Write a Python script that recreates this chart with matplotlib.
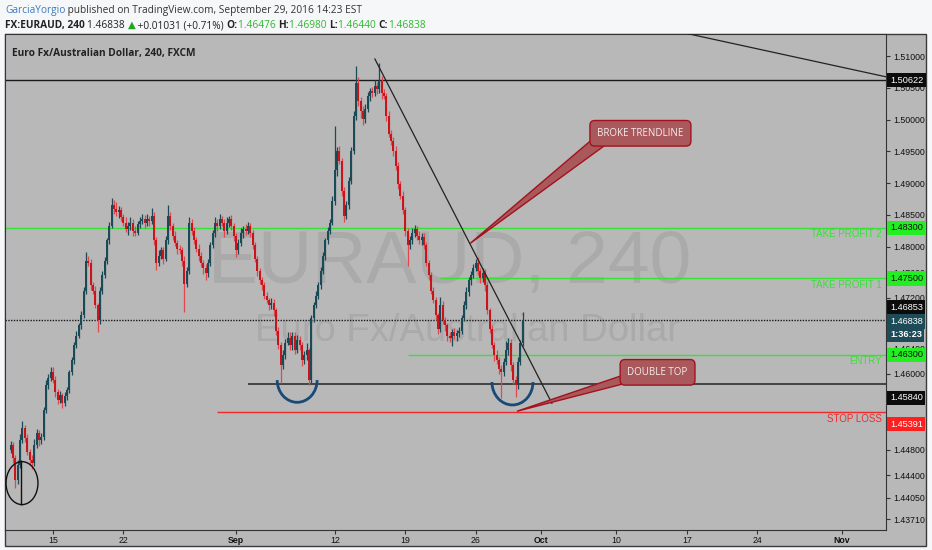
import numpy as np
import matplotlib.pyplot as plt
from matplotlib.patches import Ellipse, Arc, Polygon, Rectangle

# EURAUD 240 (4h) candles, Aug 10 - Sep 29 2016, 6 bars per trading day
first_open = 1.4480
closes = [
    1.4488, 1.4467, 1.4433, 1.4456, 1.4495, 1.4514,
    1.4499, 1.4477, 1.4464, 1.4459, 1.4488, 1.4506,
    1.4495, 1.4500, 1.4543, 1.4582, 1.4593, 1.4602,
    # Aug 15
    1.4590, 1.4571, 1.4558, 1.4566, 1.4554, 1.4565,
    1.4574, 1.4602, 1.4621, 1.4645, 1.4660, 1.4676,
    1.4692, 1.4731, 1.4778, 1.4775, 1.4739, 1.4731,
    1.4708, 1.4684, 1.4731, 1.4755, 1.4778, 1.4810,
    1.4833, 1.4865, 1.4860, 1.4854, 1.4857, 1.4847,
    # Aug 22
    1.4838, 1.4828, 1.4833, 1.4838, 1.4825, 1.4822,
    1.4835, 1.4841, 1.4844, 1.4838, 1.4844, 1.4841,
    1.4849, 1.4810, 1.4775, 1.4786, 1.4794, 1.4781,
    1.4810, 1.4849, 1.4833, 1.4817, 1.4806, 1.4797,
    1.4794, 1.4778, 1.4742, 1.4762, 1.4838, 1.4825,
    # Aug 29
    1.4810, 1.4797, 1.4786, 1.4775, 1.4766, 1.4759,
    1.4775, 1.4802, 1.4822, 1.4838, 1.4833, 1.4844,
    1.4838, 1.4825, 1.4838, 1.4844, 1.4833, 1.4817,
    1.4794, 1.4806, 1.4822, 1.4828, 1.4825, 1.4833,
    1.4822, 1.4802, 1.4781, 1.4762, 1.4747, 1.4739,
    # Sep 5
    1.4723, 1.4716, 1.4708, 1.4712, 1.4700, 1.4668,
    1.4645, 1.4613, 1.4629, 1.4649, 1.4656, 1.4645,
    1.4660, 1.4637, 1.4653, 1.4645, 1.4621, 1.4629,
    1.4637, 1.4590, 1.4687, 1.4708, 1.4723, 1.4739,
    1.4762, 1.4786, 1.4810, 1.4825, 1.4838, 1.4872,
    # Sep 12
    1.4920, 1.4951, 1.4935, 1.4888, 1.4849, 1.4865,
    1.4904, 1.4951, 1.5006, 1.5058, 1.5030, 1.5014,
    1.5001, 1.5017, 1.5037, 1.5045, 1.5042, 1.5053,
    1.5048, 1.5061, 1.5042, 1.5037, 1.5006, 1.4978,
    1.4967, 1.4951, 1.4927, 1.4899, 1.4880, 1.4857,
    # Sep 19
    1.4825, 1.4802, 1.4810, 1.4822, 1.4828, 1.4817,
    1.4810, 1.4816, 1.4802, 1.4775, 1.4755, 1.4731,
    1.4716, 1.4692, 1.4671, 1.4708, 1.4684, 1.4676,
    1.4660, 1.4656, 1.4665, 1.4659, 1.4664, 1.4668,
    1.4687, 1.4708, 1.4728, 1.4747, 1.4755, 1.4766,
    # Sep 26
    1.4775, 1.4762, 1.4750, 1.4759, 1.4739, 1.4700,
    1.4671, 1.4645, 1.4629, 1.4621, 1.4608, 1.4602,
    1.4618, 1.4637, 1.4648, 1.4613, 1.4590, 1.4582,
    1.4618, 1.46476, 1.46838,
]
# wick lengths in pips beyond the body
wick_up = [
    6, 4, 5, 8, 10, 12, 5, 6, 4, 8, 9, 7, 5, 6, 5, 8, 6, 9,
    8, 6, 5, 7, 4, 6, 5, 4, 6, 5, 7, 4, 6, 5, 14, 8, 6, 5, 7, 4, 5, 6, 5, 4, 6, 12, 8, 10, 7, 6,
    5, 8, 6, 9, 5, 7, 6, 5, 8, 6, 7, 5, 12, 5, 6, 8, 5, 6, 7, 16, 6, 5, 7, 5, 6, 5, 7, 6, 8, 5,
    6, 5, 7, 5, 4, 6, 5, 6, 5, 8, 6, 7, 5, 6, 8, 5, 6, 5, 4, 6, 7, 5, 8, 6, 5, 4, 6, 5, 4, 6,
    5, 6, 4, 7, 5, 4, 6, 5, 8, 6, 9, 10, 6, 5, 8, 7, 5, 6, 12, 4, 6, 5, 7, 5, 6, 5, 4, 6, 5, 8,
    70, 6, 8, 5, 6, 7, 5, 6, 8, 27, 9, 6, 7, 8, 6, 5, 7, 9, 6, 28, 8, 6, 5, 7, 6, 5, 8, 6, 5, 7,
    6, 5, 7, 8, 6, 5, 7, 6, 5, 6, 4, 5, 6, 5, 4, 12, 6, 5, 4, 6, 5, 7, 5, 6, 5, 6, 8, 5, 7, 6,
    6, 8, 5, 7, 6, 5, 4, 6, 5, 8, 6, 5, 7, 15, 9, 6, 5, 6, 8, 6, 14,
]
wick_dn = [
    5, 8, 13, 6, 5, 4, 6, 5, 7, 9, 4, 5, 8, 6, 4, 5, 6, 4,
    5, 7, 6, 4, 8, 5, 6, 5, 4, 6, 5, 4, 5, 4, 6, 5, 7, 6, 5, 18, 6, 5, 4, 6, 5, 4, 8, 6, 9, 7,
    6, 5, 9, 6, 8, 5, 4, 6, 5, 9, 6, 8, 5, 7, 12, 6, 5, 8, 4, 5, 7, 6, 5, 8, 6, 9, 45, 6, 5, 7,
    5, 6, 8, 7, 9, 12, 6, 5, 4, 6, 8, 5, 6, 9, 5, 7, 6, 8, 10, 6, 5, 8, 6, 5, 7, 6, 5, 8, 6, 7,
    6, 5, 8, 6, 9, 7, 6, 28, 5, 6, 4, 7, 8, 6, 5, 7, 9, 6, 8, 8, 5, 6, 4, 5, 6, 5, 7, 6, 5, 4,
    6, 8, 5, 9, 10, 6, 5, 6, 5, 7, 8, 12, 9, 6, 5, 8, 6, 5, 7, 6, 9, 5, 8, 6, 7, 9, 6, 8, 5, 6,
    8, 32, 6, 5, 7, 6, 5, 7, 6, 5, 8, 6, 5, 7, 9, 6, 5, 8, 9, 6, 12, 5, 7, 6, 5, 4, 6, 5, 7, 5,
    5, 6, 7, 5, 8, 6, 7, 5, 9, 6, 8, 40, 6, 5, 7, 8, 6, 19, 6, 5, 4,
]
first_bar = -18  # bar 0 = Aug 15 00:00

tick_bars = [0, 30, 78, 120, 150, 180, 208, 240, 270, 300, 336]
tick_names = ["15", "22", "Sep", "12", "19", "26", "Oct", "10", "17", "24", "Nov"]
price_ticks = [1.51, 1.505, 1.50, 1.495, 1.49, 1.485, 1.48, 1.476, 1.472,
               1.464, 1.46, 1.448, 1.444, 1.4405, 1.4371]

# drawn levels: name, price, start bar
resistance = 1.50622
support = 1.45840
prev_close = 1.46853
last_close = 1.46838
level_names = ["TAKE PROFIT 2", "TAKE PROFIT 1", "ENTRY", "STOP LOSS"]
level_prices = [1.48300, 1.47500, 1.46300, 1.45391]
level_start = [-21, 164.8, 151, 70]

# user drawings (bar, price)
trend_down = [(137.1, 1.50955), (212.5, 1.45535)]
trend_top = [(262.0, 1.51420), (362.0, 1.50616)]

pip = 0.0001
UP = "#1b4a57"
DN = "#c8141b"
DN_WICK = "#e2474d"
GREEN = "#36e236"
BG = "#b8b8b8"

plt.rcParams["font.family"] = ["Liberation Sans", "DejaVu Sans"]

fig = plt.figure(figsize=(9.32, 5.5), dpi=100)
fig.patch.set_facecolor("#f6f7f9")
fig.patches.append(Rectangle((5 / 932, 1 - 546 / 550), 921 / 932, 512 / 550,
                             transform=fig.transFigure, fc=BG, ec="#3a3a3a", lw=1, zorder=-5))
ax = fig.add_axes([5 / 932, 20 / 550, 881 / 932, 496 / 550])
ax.set_facecolor(BG)

x = np.arange(first_bar, first_bar + len(closes))
c = np.array(closes)
o = np.concatenate([[first_open], c[:-1]])
hi = np.maximum(o, c) + np.array(wick_up) * pip
lo = np.minimum(o, c) - np.array(wick_dn) * pip
up = c >= o

ax.vlines(x[up], lo[up], hi[up], color=UP, lw=0.9, zorder=3)
ax.vlines(x[~up], lo[~up], hi[~up], color=DN_WICK, lw=0.9, zorder=3)
body = np.maximum(np.abs(c - o), 0.00008)
ax.bar(x[up], body[up], bottom=np.minimum(o, c)[up], width=0.85, color=UP, zorder=4, lw=0)
ax.bar(x[~up], body[~up], bottom=np.minimum(o, c)[~up], width=0.85, color=DN, zorder=4, lw=0)

x0, x1 = -20.44, 354.8
ax.set_xlim(x0, x1)
ax.set_ylim(1.43540, 1.51348)

# watermark
ax.text(0.505, 0.497, "EURAUD, 240", transform=ax.transAxes, ha="center", va="baseline",
        fontsize=54, color="#aaaaaa", zorder=0)
ax.text(0.525, 0.382, "Euro Fx/Australian Dollar", transform=ax.transAxes, ha="center",
        va="baseline", fontsize=27.5, color="#aaaaaa", zorder=0)
ax.text(0.008, 0.972, "Euro Fx/Australian Dollar, 240, FXCM", transform=ax.transAxes,
        ha="left", va="top", fontsize=7.3, fontweight="bold", color="#222222",
        family=["Open Sans", "DejaVu Sans"])

# horizontal levels
ax.hlines(resistance, x0, x1, color="#1a1a1a", lw=1, zorder=2)
ax.hlines(prev_close, x0, x1, color="#1a1a1a", lw=1, linestyles=(0, (1, 1)), zorder=2)
ax.hlines(support, 83, x1, color="#303030", lw=1.2, zorder=2)
for name, p, s in zip(level_names, level_prices, level_start):
    col = "#f02a2a" if name == "STOP LOSS" else GREEN
    ax.hlines(p, s, x1, color=col, lw=1, zorder=2)
    ax.annotate(name, xy=(353.2, p), xytext=(0, -1.5), textcoords="offset pixels",
                ha="right", va="top", fontsize=7, color=col, zorder=5)

# trend lines
ax.plot(*zip(*trend_down), color="#222222", lw=0.9, zorder=5)
ax.plot(*zip(*trend_top), color="#222222", lw=0.9, zorder=5)

# circle at the start, double-bottom arcs
ax.add_patch(Ellipse((-13.2, 1.44278), 13.6, 0.00676, fill=False, ec="#111111", lw=1, zorder=5))
ax.vlines(-13.6, 1.43933, 1.44639, color="#111111", lw=1, zorder=5)
ax.add_patch(Arc((104.0, 1.45900), 17.0, 0.00700, theta1=180, theta2=360,
                 ec="#174a78", lw=2, zorder=5))
ax.add_patch(Arc((195.7, 1.45870), 17.5, 0.00723, theta1=180, theta2=360,
                 ec="#174a78", lw=2, zorder=5))

# callouts
CALL_FC = "#a9595c"
CALL_EC = "#a3121c"
ax.add_patch(Polygon([(177.6, 1.48049), (230.0, 1.4970), (236.0, 1.4962)],
                     closed=True, fc=CALL_FC, ec=CALL_EC, lw=1, zorder=6))
ax.text(250.2, 1.49785, "BROKE TRENDLINE", ha="center", va="center", fontsize=7,
        color="#f7eeee", family=["Open Sans", "DejaVu Sans"], zorder=7,
        bbox=dict(boxstyle="round,pad=0.75,rounding_size=0.5", fc=CALL_FC, ec=CALL_EC, lw=1))
ax.add_patch(Polygon([(197.6, 1.45409), (243.0, 1.4598), (246.0, 1.4587)],
                     closed=True, fc=CALL_FC, ec=CALL_EC, lw=1, zorder=6))
ax.text(257.5, 1.46022, "DOUBLE TOP", ha="center", va="center", fontsize=7,
        color="#f7eeee", family=["Open Sans", "DejaVu Sans"], zorder=7,
        bbox=dict(boxstyle="round,pad=0.75,rounding_size=0.5", fc=CALL_FC, ec=CALL_EC, lw=1))

# axes, ticks
for sp in ax.spines.values():
    sp.set_color("#333333")
ax.yaxis.tick_right()
ax.set_yticks(price_ticks)
ax.set_yticklabels(["%.5f" % v for v in price_ticks])
ax.tick_params(axis="y", direction="out", length=3, pad=2, labelsize=6.3,
               colors="#333333", labelcolor="#111111")
ax.set_xticks(tick_bars)
ax.set_xticklabels(tick_names)
for lab in ax.get_xticklabels():
    if lab.get_text() in ("Sep", "Oct", "Nov"):
        lab.set_fontweight("bold")
ax.tick_params(axis="x", direction="out", length=3, pad=1.5, labelsize=6.3,
               colors="#333333", labelcolor="#111111")

# price labels on the axis
axis_labels = [
    ("1.50622", resistance, "#0c0c0c", "white", 0),
    ("1.48300", level_prices[0], "#22ee22", "#111111", 0),
    ("1.47500", level_prices[1], "#22ee22", "#111111", 0),
    ("1.46853", prev_close, "#0c0c0c", "white", 12),
    ("1.46838", last_close, "#1d4b57", "white", -1),
    ("1:36:23", last_close, "#1d4b57", "white", -14),
    ("1.46300", level_prices[2], "#22ee22", "#111111", 0),
    ("1.45840", support, "#0c0c0c", "white", -14),
    ("1.45391", level_prices[3], "#ff1f1f", "white", -12),
]
for txt, p, bg, fg, dy in axis_labels:
    ax.annotate(txt, xy=(1, p), xycoords=ax.get_yaxis_transform(), xytext=(4, dy),
                textcoords="offset pixels", ha="left", va="center", fontsize=6.6,
                fontweight="bold" if txt[1] == ":" else "normal", color=fg,
                annotation_clip=False, zorder=10,
                bbox=dict(boxstyle="square,pad=0.28", fc=bg, ec="none"))

# header
fig.canvas.draw()
renderer = fig.canvas.get_renderer()


def chain(parts, x_px, y_px, size):
    xf = x_px / 932
    for s, col, w in parts:
        t = fig.text(xf, 1 - y_px / 550, s, color=col, fontsize=size, fontweight=w,
                     family=["Open Sans", "DejaVu Sans"], va="baseline")
        xf = t.get_window_extent(renderer=renderer).x1 / fig.bbox.width


OHLC_G = "#2fb62f"
chain([("GarciaYorgio", "#3a7cc0", "normal"),
       (" published on TradingView.com, September 29, 2016 14:23 EST", "#333333", "normal")],
      5, 13, 7.3)
chain([("FX:EURAUD, 240 ", "#222222", "bold"), ("1.46838 ", "#222222", "normal"),
       ("\u25b2", "#1fa51f", "normal"), (" +0.01031 (+0.71%) ", "#222222", "normal"),
       ("O:", "#222222", "bold"), ("1.46476 ", OHLC_G, "normal"),
       ("H:", "#222222", "bold"), ("1.46980 ", OHLC_G, "normal"),
       ("L:", "#222222", "bold"), ("1.46440 ", OHLC_G, "normal"),
       ("C:", "#222222", "bold"), ("1.46838", OHLC_G, "normal")],
      5, 28, 7.3)

fig.savefig("out.png", dpi=100, facecolor=fig.get_facecolor())
